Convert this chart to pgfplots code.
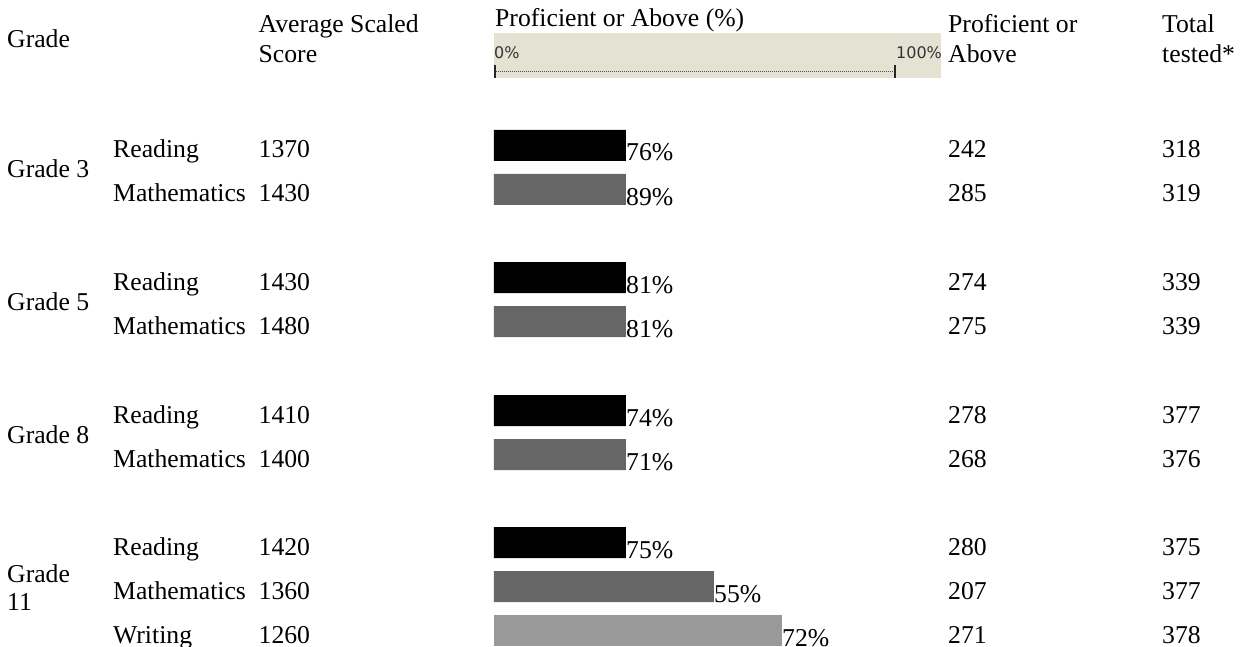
\documentclass[border=0pt]{standalone}
\usepackage{pgfplots}
\pgfplotsset{compat=1.18}
\usepackage{fontspec}
\setmainfont{Liberation Serif}
\newfontfamily\scalefont{DejaVu Sans}
\definecolor{band}{HTML}{E4E3D3}
\definecolor{mathgray}{HTML}{666666}
\definecolor{writegray}{HTML}{999999}
\definecolor{scaletext}{HTML}{333333}
\newcommand{\bigf}{\fontsize{25.7pt}{30pt}\selectfont}
% x in percent units: pixel = 494 + 4*x ; y in pixels from top
\newcommand{\txt}[3]{\node[anchor=base west,inner sep=0pt,font=\bigf] at (axis cs:#1,#2) {#3};}
\begin{document}
\begin{tikzpicture}
\begin{axis}[
  at={(0,0)}, anchor=south west,
  scale only axis, width=1247pt, height=647pt,
  xmin=-123.5, xmax=188.25, ymin=0, ymax=647, y dir=reverse,
  axis lines=none, clip=false,
]
% scale band
\fill[band] (axis cs:0,33) rectangle (axis cs:111.75,78);
\draw[black!70, dash pattern=on 1pt off 1pt, line width=0.8pt] (axis cs:0.5,71.5) -- (axis cs:99.75,71.5);
\draw[black!85, line width=1.6pt] (axis cs:0.2,65) -- (axis cs:0.2,78);
\draw[black!85, line width=1.6pt] (axis cs:100.25,65) -- (axis cs:100.25,78);
\node[anchor=base west,inner sep=0pt,font=\scalefont\fontsize{16pt}{18pt}\selectfont,text=scaletext] at (axis cs:0,59) {0\%};
\node[anchor=base west,inner sep=0pt,font=\scalefont\fontsize{16pt}{18pt}\selectfont,text=scaletext] at (axis cs:100.5,59) {100\%};

% bars
\addplot[xbar, bar width=31pt, bar shift=0pt, fill=black, draw=none,
  point meta=explicit symbolic, nodes near coords,
  nodes near coords style={anchor=base west, inner sep=0pt, yshift=-15.5pt, font=\bigf, text=black}]
  coordinates {(33,145.5)[76\%] (33,277.5)[81\%] (33,410.5)[74\%] (33,542.5)[75\%]};
\addplot[xbar, bar width=31pt, bar shift=0pt, fill=mathgray, draw=none,
  point meta=explicit symbolic, nodes near coords,
  nodes near coords style={anchor=base west, inner sep=0pt, yshift=-15.5pt, font=\bigf, text=black}]
  coordinates {(33,189.5)[89\%] (33,321.5)[81\%] (33,454.5)[71\%] (55,586.5)[55\%]};
\addplot[xbar, bar width=31pt, bar shift=0pt, fill=writegray, draw=none,
  point meta=explicit symbolic, nodes near coords,
  nodes near coords style={anchor=base west, inner sep=0pt, yshift=-15.5pt, font=\bigf, text=black}]
  coordinates {(72,630.5)[72\%]};

% headers
\txt{-121.75}{48}{Grade}
\txt{-58.875}{33}{Average Scaled}
\txt{-58.875}{63}{Score}
\txt{0.25}{27}{Proficient or Above (\%)}
\txt{113.5}{33}{Proficient or}
\txt{113.5}{63}{Above}
\txt{167}{33}{Total}
\txt{167}{63}{tested*}

% grade labels
\txt{-121.75}{178}{Grade 3}
\txt{-121.75}{310}{Grade 5}
\txt{-121.75}{443}{Grade 8}
\txt{-121.75}{582}{Grade}
\txt{-121.75}{610}{11}

% rows: subject, score, proficient count, total
\txt{-95.25}{158}{Reading}      \txt{-58.875}{158}{1370} \txt{113.5}{158}{242} \txt{167}{158}{318}
\txt{-95.25}{202}{Mathematics}  \txt{-58.875}{202}{1430} \txt{113.5}{202}{285} \txt{167}{202}{319}
\txt{-95.25}{290}{Reading}      \txt{-58.875}{290}{1430} \txt{113.5}{290}{274} \txt{167}{290}{339}
\txt{-95.25}{334}{Mathematics}  \txt{-58.875}{334}{1480} \txt{113.5}{334}{275} \txt{167}{334}{339}
\txt{-95.25}{423}{Reading}      \txt{-58.875}{423}{1410} \txt{113.5}{423}{278} \txt{167}{423}{377}
\txt{-95.25}{467}{Mathematics}  \txt{-58.875}{467}{1400} \txt{113.5}{467}{268} \txt{167}{467}{376}
\txt{-95.25}{555}{Reading}      \txt{-58.875}{555}{1420} \txt{113.5}{555}{280} \txt{167}{555}{375}
\txt{-95.25}{599}{Mathematics}  \txt{-58.875}{599}{1360} \txt{113.5}{599}{207} \txt{167}{599}{377}
\txt{-95.25}{643}{Writing}      \txt{-58.875}{643}{1260} \txt{113.5}{643}{271} \txt{167}{643}{378}
\end{axis}
\pgfresetboundingbox
\path[use as bounding box] (0,0) rectangle (1247pt,647pt);
\end{tikzpicture}
\end{document}
